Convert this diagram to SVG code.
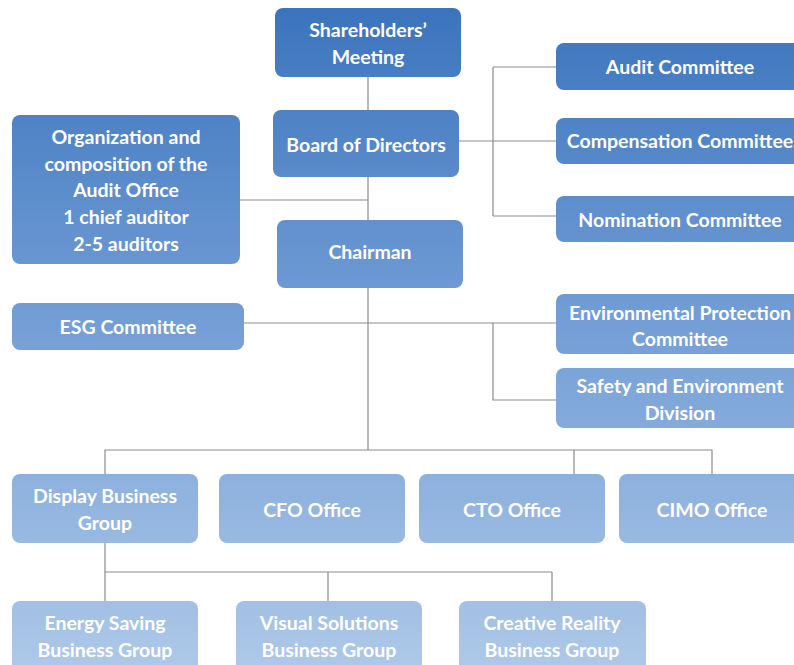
<svg xmlns="http://www.w3.org/2000/svg" width="794" height="665" viewBox="0 0 794 665">
<defs>
<linearGradient id="g" gradientUnits="userSpaceOnUse" x1="0" y1="0" x2="0" y2="665">
<stop offset="0" stop-color="#3a73bc"/>
<stop offset="0.45" stop-color="#6f9bd4"/>
<stop offset="1" stop-color="#adc8e8"/>
</linearGradient>
<style>
.n rect{fill:url(#g);}
.n text{fill:#ffffff;font-family:Lato,"Open Sans","Liberation Sans",sans-serif;font-weight:bold;font-size:19.5px;text-anchor:middle;}
#conn path{fill:none;stroke:#8c8c8c;stroke-width:1.2;}
</style>
</defs>
<rect width="794" height="665" fill="#ffffff"/>
<g id="conn">
<path d="M368 77V110M368 177V220M368 288V450"/>
<path d="M459 141H493M493 67V216M493 67H556M493 141H556M493 216H556"/>
<path d="M240 200H368"/>
<path d="M244 323H556M493 323V400H556"/>
<path d="M105 474V450H712V474M574 450V474"/>
<path d="M105 543V572M105 572H552M105 572V601M328 572V601M552 572V601"/>
</g>
<g id="shareholders" class="n"><rect x="275" y="8" width="186" height="69" rx="8"/><text x="368" y="37">Shareholders’</text><text x="368" y="64">Meeting</text></g>
<g id="board" class="n"><rect x="273" y="110" width="186" height="67" rx="8"/><text x="366" y="152">Board of Directors</text></g>
<g id="audit-committee" class="n"><rect x="556" y="43" width="250" height="47" rx="8"/><text x="680" y="74">Audit Committee</text></g>
<g id="compensation" class="n"><rect x="556" y="118" width="250" height="46" rx="8"/><text x="680" y="148">Compensation Committee</text></g>
<g id="nomination" class="n"><rect x="556" y="196" width="250" height="46" rx="8"/><text x="680" y="227">Nomination Committee</text></g>
<g id="audit-office" class="n"><rect x="12" y="115" width="228" height="149" rx="8"/><text x="126" y="144">Organization and</text><text x="126" y="171">composition of the</text><text x="126" y="197">Audit Office</text><text x="126" y="224">1 chief auditor</text><text x="126" y="251">2-5 auditors</text></g>
<g id="chairman" class="n"><rect x="277" y="220" width="186" height="68" rx="8"/><text x="370" y="259">Chairman</text></g>
<g id="esg" class="n"><rect x="12" y="303" width="232" height="47" rx="8"/><text x="128" y="334">ESG Committee</text></g>
<g id="env-protection" class="n"><rect x="556" y="294" width="250" height="60" rx="8"/><text x="680" y="320">Environmental Protection</text><text x="680" y="346">Committee</text></g>
<g id="safety" class="n"><rect x="556" y="368" width="250" height="60" rx="8"/><text x="680" y="393">Safety and Environment</text><text x="680" y="420">Division</text></g>
<g id="display" class="n"><rect x="12" y="474" width="186" height="69" rx="8"/><text x="105" y="503">Display Business</text><text x="105" y="530">Group</text></g>
<g id="cfo" class="n"><rect x="219" y="474" width="186" height="69" rx="8"/><text x="312" y="517">CFO Office</text></g>
<g id="cto" class="n"><rect x="419" y="474" width="186" height="69" rx="8"/><text x="512" y="517">CTO Office</text></g>
<g id="cimo" class="n"><rect x="619" y="474" width="186" height="69" rx="8"/><text x="712" y="517">CIMO Office</text></g>
<g id="energy" class="n"><rect x="12" y="601" width="186" height="76" rx="8"/><text x="105" y="630">Energy Saving</text><text x="105" y="657">Business Group</text></g>
<g id="visual" class="n"><rect x="236" y="601" width="186" height="76" rx="8"/><text x="329" y="630">Visual Solutions</text><text x="329" y="657">Business Group</text></g>
<g id="creative" class="n"><rect x="459" y="601" width="187" height="76" rx="8"/><text x="552" y="630">Creative Reality</text><text x="552" y="657">Business Group</text></g>
</svg>
